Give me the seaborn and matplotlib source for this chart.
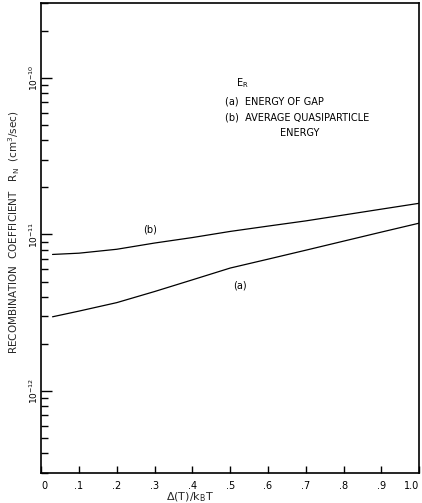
import numpy as np
import pandas as pd
import matplotlib
matplotlib.use("Agg")
import matplotlib.pyplot as plt
import matplotlib.ticker as mticker
import seaborn as sns

# ---- data ----
x_vals = [0.03, 0.1, 0.2, 0.3, 0.4, 0.5, 0.6, 0.7, 0.8, 0.9, 1.0]
curve_b = [7.45e-12, 7.59e-12, 8.04e-12, 8.81e-12, 9.55e-12, 1.045e-11,
           1.13e-11, 1.22e-11, 1.33e-11, 1.45e-11, 1.58e-11]
curve_a = [2.98e-12, 3.24e-12, 3.67e-12, 4.32e-12, 5.13e-12, 6.10e-12,
           6.95e-12, 7.93e-12, 9.06e-12, 1.035e-11, 1.18e-11]
x_ticks = [0.0, 0.1, 0.2, 0.3, 0.4, 0.5, 0.6, 0.7, 0.8, 0.9, 1.0]
x_tick_labels = ["0", ".1", ".2", ".3", ".4", ".5", ".6", ".7", ".8", ".9", "1.0"]
y_major = [1e-12, 1e-11, 1e-10]
y_major_labels = [r"$10^{-12}$", r"$10^{-11}$", r"$10^{-10}$"]

df = pd.concat([
    pd.DataFrame({"x": x_vals, "R": curve_a, "curve": "a"}),
    pd.DataFrame({"x": x_vals, "R": curve_b, "curve": "b"}),
])

sns.set_theme(style="ticks")
plt.rcParams["font.family"] = ["DejaVu Sans"]

fig = plt.figure(figsize=(4.22, 5.03), dpi=100)
ax = fig.add_axes([41.2 / 422, 30 / 503, 378 / 422, 470 / 503])

sns.lineplot(data=df, x="x", y="R", units="curve", estimator=None,
             color="black", linewidth=0.9, ax=ax, legend=False)

ax.set_yscale("log")
ax.set_xlim(0, 1.0)
ax.set_ylim(3e-13, 3e-10)

for s in ax.spines.values():
    s.set_linewidth(1.2)
    s.set_color("black")

ax.set_xticks(x_ticks)
ax.set_xticklabels(x_tick_labels, fontsize=7)
xlabs = ax.get_xticklabels()
xlabs[-1].set_horizontalalignment("right")
xlabs[0].set_horizontalalignment("left")
ax.yaxis.set_major_locator(mticker.FixedLocator(y_major))
ax.set_yticklabels(y_major_labels, fontsize=6.5, rotation=90, va="center")
ax.yaxis.set_minor_locator(mticker.LogLocator(base=10, subs=np.arange(2, 10), numticks=20))
ax.yaxis.set_minor_formatter(mticker.NullFormatter())
ax.tick_params(axis="x", direction="in", length=5, width=1, pad=6, colors="black")
ax.tick_params(axis="y", which="major", direction="in", length=8, width=1, pad=1, colors="black")
ax.tick_params(axis="y", which="minor", direction="in", length=5, width=1, colors="black")

ax.set_xlabel(r"$\Delta$(T)/k$_\mathregular{B}$T", fontsize=8)
ax.xaxis.set_label_coords(0.394, -0.036)
ax.set_ylabel(r"RECOMBINATION  COEFFICIENT   R$_\mathregular{N}$  (cm$^\mathregular{3}$/sec)",
              fontsize=7.5)
ax.yaxis.set_label_coords(-0.05, 0.513)

def fx(px):
    return (px - 41.2) / 378

def fy(py):
    return (473 - py) / 470

tk = dict(transform=ax.transAxes, fontsize=7, color="black")
ax.text(fx(242), fy(83), r"E$_\mathregular{R}$", ha="center", va="center", **tk)
ax.text(fx(225), fy(101), "(a)  ENERGY OF GAP", ha="left", va="center", **tk)
ax.text(fx(225), fy(117), "(b)  AVERAGE QUASIPARTICLE", ha="left", va="center", **tk)
ax.text(fx(280), fy(133), "ENERGY", ha="left", va="center", **tk)
ax.text(fx(150), fy(229), "(b)", ha="center", va="center", **tk)
ax.text(fx(240), fy(285), "(a)", ha="center", va="center", **tk)

fig.savefig("out.png", dpi=100, facecolor="white")
